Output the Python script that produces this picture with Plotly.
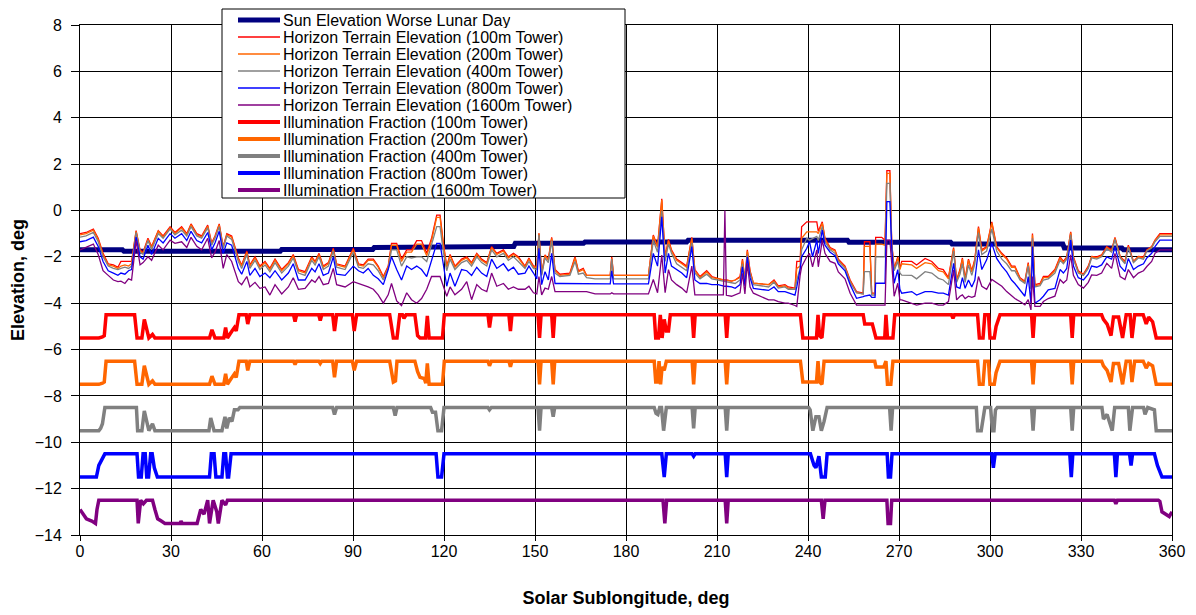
import plotly.graph_objects as go

# ---------------- data ----------------
SUN_LON = [0, 14, 14.5, 66, 66.5, 96.5, 97, 120, 120.5, 143, 143.5, 166, 166.5,
           200, 200.5, 253, 253.5, 287, 287.5, 324, 324.5, 343.5, 344, 360]
SUN_ELEV = [-1.7, -1.7, -1.76, -1.76, -1.68, -1.68, -1.6, -1.6, -1.55, -1.55, -1.42, -1.42, -1.36,
            -1.36, -1.28, -1.28, -1.37, -1.37, -1.45, -1.45, -1.62, -1.62, -1.69, -1.69]

TERRAIN_LON = [
    0, 2, 4.4, 6, 7.6, 9.3, 11, 12.5, 13.5, 14.8,
    16, 17, 18.5, 19.8, 20.8, 22.4, 23.6, 25.8, 27.4, 29.7,
    31.3, 33.5, 35.2, 36.6, 38.5, 40.1, 42.1, 43.4, 44.5, 45.9,
    47.2, 48.4, 50, 52.2, 53.3, 55, 56, 57.7, 59.3, 61,
    62.6, 64.3, 66.5, 68.7, 70.3, 72, 74.2, 76.4, 77.5, 78.8,
    80.2, 81.9, 83.5, 84.6, 87.4, 90.1, 91.8, 93.4, 95, 96.7,
    98.3, 100, 101.6, 102.7, 104.4, 106, 107.7, 109.3, 111, 112.6,
    114.3, 115.9, 117.6, 118.7, 119.8, 120.9, 122, 123.6, 125.8, 127.5,
    129.1, 130.8, 132.4, 134.1, 135.7, 137.4, 139.6, 141.2, 142.9, 144.5,
    146.7, 148, 149.5, 150.6, 151.3, 152.2, 153.3, 154.4, 155.5, 156.6,
    158.2, 161.5, 163.2, 164.3, 165.9, 167, 169.8, 174.8, 175.3, 175.9,
    187.4, 189, 190.4, 191.8, 192.9, 194, 195, 196.7, 198.4, 200,
    201.7, 202.7, 204.4, 206.6, 208.3, 210.4, 212.1, 212.6, 213.1, 214.8,
    216, 217.6, 218.4, 219.2, 220, 220.9, 222, 227, 228.8, 230.2,
    232.4, 233.5, 235.7, 236.3, 237.4, 237.9, 239.6, 240.5, 241.5, 242.9,
    243.4, 244.7, 245.6, 247.3, 248.9, 250, 252.2, 253.9, 256, 258.2,
    258.6, 260.4, 261, 262.1, 262.3, 264.3, 265.4, 266, 267, 267.6,
    268.4, 269.6, 270.3, 270.9, 274.2, 275.8, 278.6, 280.8, 283, 284.6,
    286.3, 288, 289, 290.1, 290.9, 291.8, 292.9, 294, 295, 296.2,
    297.3, 298.9, 300.6, 302.2, 303.9, 305.5, 307.1, 308.2, 309.9, 311.5,
    312.6, 313.5, 314, 314.8, 316.5, 317.6, 319.2, 321.4, 323.1, 324.2,
    325.3, 326.6, 327.5, 329.1, 330.8, 332.4, 333.5, 335.2, 336.8, 338.5,
    340.1, 341.2, 342.9, 344.5, 345.6, 347.3, 348.9, 350.6, 351.7, 353.3,
    354.4, 356, 360]

TERRAIN_100 = [
    -1.0, -0.95, -0.8, -1.2, -1.85, -2.3, -2.35, -2.45, -2.2, -2.2,
    -2.2, -2.2, -0.87, -1.7, -1.8, -1.2, -1.56, -0.87, -1.1, -0.7,
    -0.95, -0.7, -1.0, -0.58, -1.0, -1.1, -0.63, -1.4, -1.1, -0.58,
    -1.56, -1.0, -1.1, -2.05, -2.35, -1.75, -2.35, -2.0, -2.4, -2.2,
    -2.5, -2.1, -2.55, -2.25, -1.9, -2.55, -2.64, -2.0, -2.2, -1.85,
    -2.4, -2.25, -1.63, -2.3, -2.4, -1.63, -2.3, -2.35, -2.1, -2.1,
    -2.4, -2.85, -2.4, -1.42, -1.42, -2.1, -1.7, -1.7, -1.3, -1.3,
    -1.85, -1.2, -0.2, -0.2, -1.42, -2.4, -1.9, -2.4, -2.1, -2.0,
    -2.25, -1.85, -2.1, -2.25, -1.56, -1.85, -1.7, -2.0, -1.85, -2.0,
    -2.4, -2.05, -2.4, -2.4, -0.99, -2.7, -1.92, -2.1, -1.16, -2.55,
    -2.75, -2.7, -2.0, -2.6, -2.5, -2.8, -2.8, -2.8, -2.0, -2.8,
    -2.8, -1.06, -1.56, 0.5, -2.0, -1.25, -1.7, -2.1, -2.25, -2.4,
    -1.16, -2.55, -2.85, -2.6, -2.85, -2.95, -3.0, -3.0, -3.0, -3.05,
    -3.0, -2.85, -2.1, -3.0, -1.7, -2.6, -3.14, -3.2, -3.0, -3.25,
    -3.2, -3.3, -3.35, -2.2, -2.2, -0.7, -0.49, -0.49, -0.49, -0.49,
    -0.9, -0.49, -1.2, -1.6, -1.7, -2.1, -2.4, -3.0, -3.5, -3.57,
    -1.35, -1.35, -3.57, -3.57, -1.16, -1.16, -1.28, 1.72, 1.72, -1.4,
    -2.5, -2.0, -2.5, -2.2, -2.2, -2.35, -2.07, -2.2, -2.5, -2.55,
    -2.9, -1.6, -3.0, -2.55, -2.05, -2.95, -2.1, -2.6, -2.1, -0.7,
    -1.7, -1.56, -0.49, -1.56, -1.85, -2.05, -2.4, -2.4, -2.9, -3.05,
    -2.25, -3.3, -1.0, -3.2, -3.15, -2.85, -2.85, -2.55, -2.0, -2.2,
    -2.0, -0.92, -2.0, -2.6, -2.75, -2.4, -1.98, -2.0, -1.92, -1.56,
    -1.7, -1.16, -1.98, -2.2, -1.5, -2.2, -1.98, -2.0, -1.7, -1.56,
    -1.28, -1.0, -1.0]

TERRAIN_200 = [
    -1.05, -1.0, -0.85, -1.25, -1.9, -2.35, -2.4, -2.5, -2.4, -2.35,
    -2.4, -2.3, -0.9, -1.75, -1.85, -1.25, -1.6, -0.9, -1.15, -0.75,
    -1.0, -0.75, -1.05, -0.62, -1.05, -1.15, -0.68, -1.45, -1.15, -0.62,
    -1.6, -1.05, -1.15, -2.1, -2.4, -1.8, -2.4, -2.05, -2.45, -2.25,
    -2.55, -2.15, -2.6, -2.3, -1.95, -2.6, -2.7, -2.05, -2.25, -1.9,
    -2.45, -2.3, -1.68, -2.35, -2.45, -1.68, -2.35, -2.4, -2.15, -2.15,
    -2.45, -2.9, -2.45, -1.5, -1.5, -2.2, -1.8, -1.8, -1.45, -1.45,
    -1.95, -1.3, -0.3, -0.3, -1.5, -2.45, -1.95, -2.45, -2.15, -2.05,
    -2.3, -1.9, -2.15, -2.3, -1.6, -1.9, -1.75, -2.05, -1.9, -2.05,
    -2.45, -2.1, -2.45, -2.45, -1.0, -2.75, -1.95, -2.15, -1.2, -2.6,
    -2.8, -2.75, -2.05, -2.65, -2.55, -2.8, -2.8, -2.8, -2.05, -2.8,
    -2.8, -1.1, -1.6, 0.45, -2.05, -1.3, -1.75, -2.15, -2.3, -2.45,
    -1.2, -2.6, -2.9, -2.65, -2.9, -2.95, -3.0, -3.0, -3.0, -3.05,
    -3.0, -2.9, -2.15, -3.05, -1.75, -2.65, -3.14, -3.2, -3.05, -3.3,
    -3.25, -3.35, -3.4, -2.5, -2.4, -1.2, -0.92, -0.92, -0.92, -0.92,
    -1.0, -0.55, -1.25, -1.65, -1.75, -2.15, -2.45, -3.05, -3.55, -3.6,
    -1.55, -1.55, -3.6, -3.6, -1.45, -1.45, -1.5, 1.6, 1.6, -1.45,
    -2.55, -2.05, -2.55, -2.3, -2.35, -2.5, -2.25, -2.3, -2.6, -2.65,
    -2.95, -1.65, -3.05, -2.6, -2.1, -3.0, -2.15, -2.65, -2.15, -0.75,
    -1.75, -1.6, -0.55, -1.6, -1.9, -2.1, -2.45, -2.45, -2.95, -3.1,
    -2.3, -3.35, -1.05, -3.25, -3.2, -2.9, -2.9, -2.6, -2.05, -2.25,
    -2.05, -0.95, -2.05, -2.65, -2.78, -2.45, -2.0, -2.05, -1.95, -1.6,
    -1.75, -1.2, -2.0, -2.25, -1.55, -2.22, -2.0, -2.05, -1.72, -1.58,
    -1.3, -1.05, -1.05]

TERRAIN_400 = [
    -1.15, -1.1, -0.95, -1.35, -2.0, -2.4, -2.5, -2.55, -2.5, -2.45,
    -2.5, -2.4, -0.95, -1.8, -1.9, -1.3, -1.7, -1.0, -1.2, -0.8,
    -1.05, -0.85, -1.1, -0.7, -1.1, -1.2, -0.75, -1.5, -1.2, -0.7,
    -1.65, -1.1, -1.25, -2.2, -2.5, -1.9, -2.5, -2.15, -2.55, -2.35,
    -2.65, -2.25, -2.7, -2.4, -2.05, -2.7, -2.8, -2.15, -2.35, -2.0,
    -2.55, -2.4, -1.75, -2.45, -2.55, -1.8, -2.45, -2.5, -2.3, -2.35,
    -2.6, -3.0, -2.5, -1.7, -1.7, -2.4, -2.0, -2.05, -2.0, -2.0,
    -2.2, -1.5, -0.7, -0.7, -1.8, -2.6, -2.1, -2.55, -2.25, -2.15,
    -2.4, -2.0, -2.25, -2.4, -1.7, -2.0, -1.85, -2.15, -2.0, -2.2,
    -2.5, -2.2, -2.5, -2.55, -1.05, -2.8, -2.05, -2.25, -1.3, -2.7,
    -2.85, -2.8, -2.2, -2.75, -2.7, -2.9, -2.95, -2.95, -2.1, -2.95,
    -2.95, -1.3, -1.8, 0.0, -2.2, -1.45, -1.85, -2.3, -2.45, -2.6,
    -1.4, -2.7, -2.95, -2.75, -2.95, -3.0, -3.05, -3.05, -3.05, -3.1,
    -3.15, -3.0, -2.3, -3.1, -1.9, -2.75, -3.2, -3.3, -3.1, -3.35,
    -3.3, -3.4, -3.4, -3.0, -2.5, -1.7, -1.2, -1.28, -1.2, -1.12,
    -1.3, -0.7, -1.35, -1.7, -1.85, -2.2, -2.5, -3.1, -3.55, -3.6,
    -2.64, -2.64, -3.65, -3.65, -2.0, -2.0, -2.0, 1.17, 1.17, -1.5,
    -2.6, -2.2, -2.7, -2.79, -2.8, -2.95, -2.64, -2.7, -2.93, -3.0,
    -3.2, -1.75, -3.1, -2.75, -2.3, -3.1, -2.35, -2.8, -2.3, -0.95,
    -1.9, -1.75, -0.8, -1.75, -2.1, -2.3, -2.6, -2.6, -3.0, -3.15,
    -2.4, -3.4, -1.2, -3.3, -3.25, -3.0, -2.95, -2.7, -2.15, -2.3,
    -2.1, -1.05, -2.1, -2.7, -2.8, -2.5, -2.05, -2.1, -2.0, -1.65,
    -1.8, -1.25, -2.05, -2.3, -1.6, -2.25, -2.05, -2.1, -1.75, -1.62,
    -1.35, -1.12, -1.12]

TERRAIN_800 = [
    -1.35, -1.3, -1.15, -1.55, -2.2, -2.6, -2.7, -2.8, -2.7, -2.75,
    -2.6, -2.55, -1.15, -2.0, -2.1, -1.5, -1.9, -1.2, -1.4, -1.0,
    -1.2, -1.0, -1.3, -0.9, -1.3, -1.4, -0.95, -1.7, -1.4, -0.9,
    -1.85, -1.4, -1.5, -2.5, -2.75, -2.2, -2.8, -2.5, -2.85, -2.7,
    -2.9, -2.6, -3.0, -2.7, -2.3, -3.0, -3.0, -2.5, -2.65, -2.3,
    -2.8, -2.7, -2.0, -2.75, -2.8, -2.4, -2.6, -2.7, -2.5, -2.8,
    -2.95, -3.2, -2.55, -2.0, -2.55, -3.0, -2.4, -2.55, -2.4, -2.55,
    -2.85, -2.1, -1.42, -1.42, -2.4, -3.27, -2.7, -3.27, -2.55, -2.6,
    -2.8, -2.45, -2.7, -2.85, -2.1, -2.5, -2.3, -2.6, -2.45, -2.75,
    -2.7, -2.4, -2.7, -2.95, -1.63, -3.2, -2.64, -3.0, -1.85, -3.15,
    -3.15, -3.15, -3.15, -3.15, -3.15, -3.15, -3.17, -3.17, -2.6, -3.17,
    -3.17, -1.85, -2.4, -0.27, -2.7, -1.85, -2.4, -2.55, -2.7, -2.9,
    -1.56, -3.0, -3.15, -3.15, -3.2, -3.2, -3.27, -3.27, -3.27, -3.3,
    -3.36, -3.2, -2.43, -3.25, -2.0, -2.9, -3.36, -3.45, -3.3, -3.5,
    -3.5, -3.55, -3.65, -3.3, -2.55, -2.0, -1.63, -1.35, -2.0, -1.28,
    -1.85, -0.85, -1.5, -1.8, -1.95, -2.3, -2.6, -3.2, -3.79, -3.72,
    -3.7, -3.65, -3.75, -3.75, -3.14, -3.14, -3.14, 0.38, 0.38, -1.63,
    -3.14, -2.55, -3.4, -3.57, -3.5, -3.65, -3.5, -3.5, -3.57, -3.57,
    -3.65, -2.28, -3.3, -3.36, -2.9, -3.36, -3.0, -3.3, -3.0, -1.7,
    -2.55, -2.13, -1.42, -2.07, -2.4, -2.65, -3.0, -3.15, -3.43, -3.7,
    -2.85, -4.0, -1.56, -4.0, -3.85, -3.7, -3.42, -3.36, -2.55, -2.7,
    -2.5, -1.28, -2.4, -2.9, -3.0, -2.75, -2.4, -2.45, -2.35, -2.0,
    -2.1, -1.56, -2.4, -2.64, -2.07, -2.55, -2.4, -2.3, -2.05, -1.85,
    -1.56, -1.28, -1.28]

TERRAIN_1600 = [
    -1.7, -1.6, -1.45, -1.9, -2.6, -2.8, -3.0, -3.07, -3.05, -3.15,
    -2.95, -3.0, -1.3, -2.35, -2.25, -2.0, -2.15, -1.5, -1.7, -1.28,
    -1.42, -1.35, -1.6, -1.16, -1.55, -1.7, -1.2, -2.05, -1.8, -1.3,
    -2.5, -1.9, -2.2, -3.07, -3.2, -2.85, -3.3, -3.1, -3.36, -3.3,
    -3.65, -3.2, -3.6, -3.3, -2.9, -3.4, -3.36, -3.0, -3.1, -2.85,
    -3.2, -3.15, -2.5, -3.2, -3.3, -3.07, -3.15, -3.2, -3.3, -3.4,
    -3.64, -4.0, -3.64, -3.15, -3.9, -4.1, -3.55, -3.85, -4.0, -3.8,
    -3.4, -2.85, -2.85, -2.85, -3.27, -3.7, -3.3, -3.64, -3.4, -3.07,
    -3.85, -3.2, -3.4, -3.5, -2.7, -3.27, -3.15, -3.4, -3.3, -3.4,
    -3.4, -3.27, -3.55, -3.6, -2.85, -3.64, -3.35, -3.4, -2.85, -3.5,
    -3.5, -3.5, -3.5, -3.5, -3.5, -3.5, -3.6, -3.6, -3.55, -3.6,
    -3.6, -2.98, -3.55, -1.92, -3.55, -2.55, -3.0, -3.2, -3.35, -3.55,
    -2.4, -3.64, -3.64, -3.64, -3.64, -3.64, -3.64, 0.0, -3.66, -3.7,
    -3.65, -3.55, -2.71, -3.6, -2.28, -3.3, -3.57, -3.86, -3.86, -3.93,
    -4.0, -4.0, -4.1, -4.14, -2.8, -2.43, -2.0, -1.85, -2.43, -1.7,
    -2.43, -1.28, -1.85, -2.2, -2.28, -2.65, -2.95, -3.57, -4.08, -4.08,
    -4.08, -4.08, -4.08, -4.08, -4.08, -4.08, -4.08, -1.28, -1.28, -2.28,
    -3.7, -3.14, -3.86, -3.86, -4.0, -4.08, -4.0, -4.0, -4.08, -4.08,
    -3.93, -2.57, -3.86, -3.7, -3.64, -3.8, -3.7, -3.75, -3.7, -2.85,
    -3.27, -3.4, -2.98, -3.13, -3.27, -3.5, -3.7, -3.8, -3.93, -4.07,
    -3.85, -4.29, -2.85, -4.14, -4.14, -3.93, -3.8, -3.7, -2.98, -3.13,
    -3.0, -1.92, -2.8, -3.2, -3.35, -3.1, -2.78, -2.8, -2.7, -2.28,
    -2.5, -1.85, -2.85, -2.98, -2.55, -2.9, -2.7, -2.6, -2.42, -2.2,
    -1.85, -1.7, -1.7]

# Illumination fraction (0..1) per tower, plotted on a baseline offset
ILLUM_BASE = [-5.5, -7.5, -9.5, -11.5, -13.5]

ILLUM_100_LON = [0, 6.2, 7.4, 8.0, 8.6, 18, 18.8, 20.4, 21.2, 22.1, 22.7, 23.9, 24.7,
                 42.7, 43.5, 44.5, 47.4, 48, 48.6, 50.1, 50.9, 51.5, 52.4, 54.8, 55.3, 56,
                 70.4, 70.9, 71.4, 78.7, 79.2, 79.7, 83.3, 83.9, 84.6, 89.8, 90.4, 91.2,
                 102.1, 103.3, 104.5, 105.4, 106.3, 106.8, 107.5, 110.4, 111.3, 112.1, 113.9,
                 114.5, 115.1, 119.5, 120.1, 134.5, 135, 135.6, 141.4, 141.9, 142.4,
                 151, 151.5, 152, 155.5, 156, 156.5, 189.3, 189.8, 190.7, 191.3, 191.9,
                 192.6, 193.3, 194, 194.6, 201.8, 202.3, 202.8, 212.7, 213.2, 213.7,
                 237.5, 238.3, 242.8, 243.3, 243.8, 244.6, 245.3, 258.2, 258.7, 261.2,
                 262.4, 265.3, 265.7, 266.2, 268, 268.6, 287.3, 287.8, 288.3, 295.9,
                 296.5, 297.7, 298.3, 299.5, 300, 301.4, 302, 303.3, 313.7, 314.2, 314.7,
                 326.6, 327.1, 327.6, 336.8, 337.4, 338.6, 339.9, 340.7, 342.4, 343.7,
                 344.9, 346.2, 346.8, 347.7, 350.5, 351.5, 352.3, 353.6, 354.8, 360]
ILLUM_100 = [0, 0, 0.05, 0.1, 1, 1, 0, 0, 0.8, 0.4, 0, 0.15, 0,
             0, 0.35, 0, 0, 0.45, 0, 0.3, 0.45, 0.3, 1, 1, 0.6, 1,
             1, 0.7, 1, 1, 0.75, 1, 1, 0.3, 1, 1, 0.3, 1,
             1, 0, 0, 1, 1, 0.85, 1, 1, 0.1, 0, 0,
             0.95, 0, 0, 1, 1, 0.45, 1, 1, 0.3, 1,
             1, 0, 1, 1, 0, 1, 1, 0, 0, 1, 0,
             0.8, 0.3, 0.3, 1, 1, 0, 1, 1, 0, 1,
             1, 0, 0, 1, 0.1, 0, 1, 1, 0.6, 0.6,
             0, 0, 1, 0, 0, 1, 1, 0.85, 1, 1,
             0, 0, 1, 1, 0, 0, 0.5, 1, 1, 0, 1,
             1, 0, 1, 1, 0.8, 0.6, 0.1, 0.9, 0.9, 0,
             1, 1, 0, 1, 1, 0.6, 0.9, 0.7, 0, 0]

ILLUM_200_LON = [0, 6.2, 7.4, 8.0, 8.6, 18, 18.8, 20.4, 21.2, 22.1, 22.7, 23.9, 24.7,
                 42.7, 43.5, 44.5, 47.4, 48, 48.6, 50.1, 50.9, 51.5, 52.4, 54.8, 55.3, 56,
                 70.4, 70.9, 71.4, 78.7, 79.2, 79.7, 83.3, 83.9, 84.6, 89.8, 90.4, 91.2,
                 102.1, 103.3, 104, 104.5, 110.4, 111.3, 112.1, 113.5, 114, 114.5, 115.1,
                 119.5, 120.1, 134.5, 135, 135.6, 141.4, 141.9, 142.4, 151, 151.5, 152,
                 155.5, 156, 156.5, 189.3, 189.8, 190.4, 190.9, 191.4, 191.9, 192.6, 193.3,
                 201.8, 202.3, 202.8, 212.7, 213.2, 213.7, 237.5, 238.3, 242.8, 243.3,
                 243.8, 244.6, 245.3, 262, 262.4, 265, 265.7, 266.2, 267.3, 268,
                 295.9, 296.5, 297.7, 298.3, 299.5, 300, 301.4, 302, 303.3, 313.7, 314.2,
                 314.7, 326.6, 327.1, 327.6, 336.8, 337.4, 338.6, 339.9, 340.7, 342.4,
                 343.7, 344.9, 346.2, 346.8, 347.7, 350.5, 351.5, 352.3, 353.6, 354.8, 360]
ILLUM_200 = [0, 0, 0.05, 0.1, 1, 1, 0, 0, 0.8, 0.4, 0, 0.15, 0,
             0, 0.35, 0, 0, 0.45, 0, 0.3, 0.45, 0.3, 1, 1, 0.6, 1,
             1, 0.85, 1, 1, 0.9, 1, 1, 0.3, 1, 1, 0.6, 1,
             1, 0.1, 0.15, 1, 1, 0.55, 0.3, 0.25, 0.05, 0.9, 0,
             0, 1, 1, 0.8, 1, 1, 0.75, 1, 1, 0, 1,
             1, 0, 1, 1, 0.1, 0.1, 1, 0, 0.75, 0.6, 1,
             1, 0, 1, 1, 0, 1, 1, 0.1, 0.1, 1,
             0.1, 0, 1, 1, 0.75, 0.75, 1, 0, 0, 1,
             1, 0, 0, 1, 1, 0, 0, 0.5, 1, 1, 0,
             1, 1, 0, 1, 1, 0.8, 0.6, 0.1, 0.9, 0.9,
             0, 1, 1, 0.1, 1, 1, 0.7, 0.9, 0.8, 0, 0]

ILLUM_400_LON = [0, 6.2, 6.8, 7.4, 8.2, 18.6, 19, 20.4, 21.2, 22.1, 22.7, 23.9, 24.7,
                 42.5, 43.1, 44.2, 46.8, 47.8, 48.4, 49.2, 50.1, 50.9, 52.1, 52.7,
                 83.3, 83.9, 84.6, 103.3, 103.9, 104.5, 115.6, 116.2, 117.2, 118, 119.2, 120,
                 134.5, 135, 135.6, 151, 151.5, 152, 155.5, 156, 156.5,
                 189.3, 189.9, 190.5, 191.1, 191.7, 192.4, 193.3, 201.8, 202.3, 202.8,
                 212.7, 213.2, 213.7, 240.2, 240.7, 241.6, 242.6, 243.6, 244.4, 245.3, 246.3,
                 266.9, 267.4, 267.9, 295.5, 295.9, 297.1, 298.3, 300.2, 300.8, 301.3, 301.8,
                 302.4, 313.7, 314.2, 314.7, 326.6, 327.1, 327.6, 336.9, 337.4, 338.6, 340.3,
                 341.1, 345.6, 346.1, 347, 350.6, 351.1, 352, 354.2, 354.8, 360]
ILLUM_400 = [0, 0, 0.1, 0.3, 1, 1, 0, 0, 0.85, 0.3, 0, 0.3, 0,
             0, 0.55, 0, 0, 0.6, 0.1, 0.55, 0.4, 0.9, 0.9, 1,
             1, 0.7, 1, 1, 0.65, 1, 1, 0.8, 0.8, 0, 0, 1,
             1, 0.9, 1, 1, 0, 1, 1, 0.6, 1,
             1, 0.75, 0.7, 1, 1, 0, 1, 1, 0.1, 1,
             1, 0, 1, 1, 0.9, 0, 0.6, 0.6, 0, 0.4, 1,
             1, 0, 1, 1, 0, 0, 1, 1, 0, 0, 0.9,
             1, 1, 0, 1, 1, 0, 1, 1, 0.5, 0.7, 0,
             1, 1, 0, 1, 1, 0.7, 1, 0.9, 0, 0]

ILLUM_800_LON = [0, 5.4, 6.2, 7.1, 8.2, 18.8, 19.3, 20.2, 20.8, 21.5, 22, 22.6, 23.3,
                 23.8, 24.5, 25.5, 42.7, 43.3, 44.2, 44.8, 46.8, 47.4, 48, 48.6, 49, 49.8,
                 117.4, 118, 119.2, 120, 191.2, 191.8, 192.6, 193.3, 201.8, 202.3, 202.8,
                 212.7, 213.2, 213.7, 240.8, 241.3, 242, 242.6, 243.6, 244.4, 245.7, 246.3,
                 266.1, 266.5, 267.2, 267.7, 300.6, 301.1, 301.7, 326.3, 326.8, 327.3,
                 341, 341.5, 342, 346, 346.5, 347, 354.2, 355.2, 356.7, 360]
ILLUM_800 = [0, 0, 0.5, 0.75, 1, 1, 0, 0, 1, 1, 0, 0, 1,
             1, 0.4, 0, 0, 1, 1, 0, 0, 1, 1, 0, 0, 1,
             1, 0, 0, 1, 1, 1, 0, 1, 1, 0.9, 1,
             1, 0, 1, 1, 0.8, 0.5, 0.4, 0.9, 0, 0, 1,
             1, 0, 0, 1, 1, 0.4, 1, 1, 0, 1,
             1, 0, 1, 1, 0.5, 1, 1, 0.5, 0, 0]

ILLUM_1600_LON = [0, 0.9, 2.1, 3.9, 5.1, 5.6, 6.2, 18.8, 19.2, 20, 20.9, 21.9, 23.9,
                  24.7, 25.6, 26.8, 28, 33, 33.3, 33.7, 38.6, 39.8, 40.9, 42.1, 42.7,
                  43.9, 45.1, 45.6, 46.8, 48, 48.6, 192.2, 192.8, 193.4, 212.7, 213.2,
                  213.7, 244.4, 245, 245.6, 266, 266.4, 267.2, 267.6, 341, 341.5, 342,
                  355.5, 356, 356.7, 357.9, 359.1, 360]
ILLUM_1600 = [0.6, 0.4, 0.2, 0.1, 0, 0.6, 1, 1, 0, 1, 0.85, 1, 1,
              0.6, 0.2, 0.1, 0, 0, 0.1, 0, 0, 0.6, 0.4, 1, 0,
              1, 0.5, 0, 1, 0.8, 1, 1, 0, 1, 1, 0,
              1, 1, 0.2, 1, 1, 0, 0, 1, 1, 0.85, 1,
              1, 0.95, 0.5, 0.4, 0.3, 0.5]

TOWERS = ["100m", "200m", "400m", "800m", "1600m"]
COLORS = ["#FF0000", "#FF6600", "#808080", "#0000FF", "#800080"]
SUN_COLOR = "#000080"
SUN_NAME = "Sun Elevation Worse Lunar Day"
TERRAIN_NAMES = [f"Horizon Terrain Elevation ({t} Tower)" for t in TOWERS]
ILLUM_NAMES = [f"Illumination Fraction ({t} Tower)" for t in TOWERS]

# ---------------- figure ----------------
FONT = "Arial, Liberation Sans, sans-serif"
OFF = 8                      # page body margin of the browser
W, H = 1196 - OFF, 615 - OFF
ML, MR, MT, MB = 80 - OFF, 24, 25 - OFF, 80
PW, PH = W - ML - MR, H - MT - MB


def px_x(px):                # screen pixel -> paper x
    return (px - OFF - ML) / PW


def px_y(py):                # screen pixel -> paper y
    return (H - MB - (py - OFF)) / PH


fig = go.Figure()

fig.add_trace(go.Scatter(x=SUN_LON, y=SUN_ELEV, mode="lines",
                         line=dict(color=SUN_COLOR, width=5), name=SUN_NAME))

terrain = [TERRAIN_100, TERRAIN_200, TERRAIN_400, TERRAIN_800, TERRAIN_1600]
for name, col, ys in zip(TERRAIN_NAMES, COLORS, terrain):
    fig.add_trace(go.Scatter(x=TERRAIN_LON, y=ys, mode="lines",
                             line=dict(color=col, width=1.3), name=name))

illum = [(ILLUM_100_LON, ILLUM_100), (ILLUM_200_LON, ILLUM_200), (ILLUM_400_LON, ILLUM_400),
         (ILLUM_800_LON, ILLUM_800), (ILLUM_1600_LON, ILLUM_1600)]
for name, col, base, (lon, frac) in zip(ILLUM_NAMES, COLORS, ILLUM_BASE, illum):
    fig.add_trace(go.Scatter(x=lon, y=[base + f for f in frac], mode="lines",
                             line=dict(color=col, width=3.5), name=name))

axis_common = dict(showgrid=True, gridcolor="#000000", gridwidth=1,
                   showline=True, linecolor="#000000", linewidth=1, mirror=True,
                   ticks="outside", tickcolor="#000000", automargin=False,
                   zeroline=False, tickfont=dict(family=FONT, size=16, color="#000"))

# ---- legend drawn as box + sample lines + text ----
shapes = [dict(type="rect", xref="paper", yref="paper",
               x0=px_x(222), x1=px_x(625), y0=px_y(198), y1=px_y(9),
               line=dict(color="#000", width=1), fillcolor="white", layer="above")]
annotations = []
entries = ([(SUN_NAME, SUN_COLOR, 5)] +
           [(n, c, 1.3) for n, c in zip(TERRAIN_NAMES, COLORS)] +
           [(n, c, 4) for n, c in zip(ILLUM_NAMES, COLORS)])
for i, (name, col, wdt) in enumerate(entries):
    yc = 20 + i * 17
    shapes.append(dict(type="line", xref="paper", yref="paper",
                       x0=px_x(238), x1=px_x(280), y0=px_y(yc), y1=px_y(yc),
                       line=dict(color=col, width=wdt), layer="above"))
    annotations.append(dict(xref="paper", yref="paper", x=px_x(282), y=px_y(yc),
                            xanchor="left", yanchor="middle", showarrow=False,
                            height=16, borderpad=0, valign="middle",
                            text=name, font=dict(family=FONT, size=16, color="#000")))

fig.update_layout(
    width=W, height=H,
    margin=dict(l=ML, r=MR, t=MT, b=MB),
    paper_bgcolor="white", plot_bgcolor="white",
    font=dict(family=FONT, color="#000"),
    showlegend=False,
    xaxis=dict(range=[0, 360], tick0=0, dtick=30, ticklen=5, ticklabelstandoff=-3,
               title=dict(text="Solar Sublongitude, deg", standoff=32,
                          font=dict(family=FONT, size=18, weight="bold")),
               **axis_common),
    yaxis=dict(range=[-14, 8], tick0=-14, dtick=2, ticklen=8, ticklabelstandoff=6,
               title=dict(text="Elevation, deg", standoff=10,
                          font=dict(family=FONT, size=18, weight="bold")),
               **axis_common),
    shapes=shapes,
    annotations=annotations,
)

fig.write_html("out.html")
